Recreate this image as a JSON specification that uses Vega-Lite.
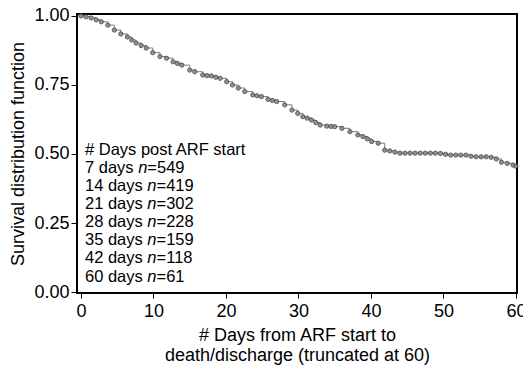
{
  "$schema": "https://vega.github.io/schema/vega-lite/v6.json",
  "width": 440,
  "height": 279,
  "autosize": {"type": "none"},
  "padding": {"left": 77, "top": 14, "right": 6, "bottom": 74},
  "config": {
    "font": "Liberation Sans",
    "view": {"stroke": "black", "strokeWidth": 2},
    "axis": {
      "domain": false,
      "grid": false,
      "tickColor": "black",
      "labelColor": "black",
      "titleColor": "black",
      "labelFontSize": 18,
      "titleFontSize": 18,
      "titleFontWeight": "normal",
      "labelFont": "Liberation Sans",
      "titleFont": "Liberation Sans"
    }
  },
  "datasets": {
    "km": [
      {"day": 0, "surv": 1.0},
      {"day": 0.7, "surv": 0.997},
      {"day": 1.4, "surv": 0.993},
      {"day": 2.1, "surv": 0.986},
      {"day": 2.8, "surv": 0.979},
      {"day": 3.7, "surv": 0.967},
      {"day": 4.6, "surv": 0.949},
      {"day": 5.5, "surv": 0.935},
      {"day": 6.4, "surv": 0.924},
      {"day": 7.0, "surv": 0.913},
      {"day": 7.6, "surv": 0.902},
      {"day": 8.3, "surv": 0.893},
      {"day": 9.0, "surv": 0.884},
      {"day": 9.9, "surv": 0.867},
      {"day": 10.9, "surv": 0.853},
      {"day": 11.8, "surv": 0.847},
      {"day": 12.7, "surv": 0.834},
      {"day": 13.3, "surv": 0.828},
      {"day": 13.9, "surv": 0.822},
      {"day": 15.0, "surv": 0.804},
      {"day": 15.7, "surv": 0.798},
      {"day": 16.8, "surv": 0.786},
      {"day": 17.4, "surv": 0.784},
      {"day": 18.0, "surv": 0.783},
      {"day": 18.6, "surv": 0.778},
      {"day": 19.2, "surv": 0.774},
      {"day": 20.1, "surv": 0.762},
      {"day": 20.9, "surv": 0.75},
      {"day": 21.7, "surv": 0.739},
      {"day": 22.6, "surv": 0.726},
      {"day": 23.7, "surv": 0.714},
      {"day": 24.3, "surv": 0.711},
      {"day": 24.9, "surv": 0.708},
      {"day": 25.8, "surv": 0.698},
      {"day": 26.4, "surv": 0.694},
      {"day": 27.0, "surv": 0.69},
      {"day": 28.1, "surv": 0.678},
      {"day": 29.1, "surv": 0.659},
      {"day": 29.9, "surv": 0.647},
      {"day": 30.6, "surv": 0.635},
      {"day": 31.2, "surv": 0.63},
      {"day": 31.8, "surv": 0.623},
      {"day": 32.4, "surv": 0.614},
      {"day": 33.0, "surv": 0.605},
      {"day": 33.9, "surv": 0.601},
      {"day": 34.5, "surv": 0.6},
      {"day": 35.0, "surv": 0.599},
      {"day": 36.0, "surv": 0.593},
      {"day": 37.1, "surv": 0.581},
      {"day": 38.2, "surv": 0.569},
      {"day": 38.9, "surv": 0.563},
      {"day": 39.5, "surv": 0.555},
      {"day": 40.1, "surv": 0.545},
      {"day": 41.0, "surv": 0.539},
      {"day": 41.9, "surv": 0.514},
      {"day": 42.6, "surv": 0.511},
      {"day": 43.3, "surv": 0.507},
      {"day": 44.0, "surv": 0.503},
      {"day": 44.7, "surv": 0.503},
      {"day": 45.4, "surv": 0.503},
      {"day": 46.1, "surv": 0.503},
      {"day": 46.8, "surv": 0.503},
      {"day": 47.5, "surv": 0.503},
      {"day": 48.2, "surv": 0.503},
      {"day": 48.9, "surv": 0.503},
      {"day": 49.6, "surv": 0.502},
      {"day": 50.3, "surv": 0.499},
      {"day": 51.0, "surv": 0.496},
      {"day": 51.7, "surv": 0.496},
      {"day": 52.4, "surv": 0.496},
      {"day": 53.1, "surv": 0.496},
      {"day": 53.8, "surv": 0.492},
      {"day": 54.5, "surv": 0.49},
      {"day": 55.2, "surv": 0.49},
      {"day": 55.9, "surv": 0.49},
      {"day": 56.6, "surv": 0.488},
      {"day": 57.3, "surv": 0.482},
      {"day": 58.0, "surv": 0.47},
      {"day": 58.8, "surv": 0.466},
      {"day": 59.6, "surv": 0.46},
      {"day": 60.0, "surv": 0.456}
    ],
    "risk": [
      {"label": "# Days post ARF start"},
      {"label": "7 days", "n": 549},
      {"label": "14 days", "n": 419},
      {"label": "21 days", "n": 302},
      {"label": "28 days", "n": 228},
      {"label": "35 days", "n": 159},
      {"label": "42 days", "n": 118},
      {"label": "60 days", "n": 61}
    ]
  },
  "layer": [
    {
      "data": {"name": "km"},
      "mark": {"type": "line", "interpolate": "step-after", "color": "#7a7a7a", "strokeWidth": 1},
      "encoding": {
        "x": {
          "field": "day", "type": "quantitative",
          "scale": {"domain": [-0.55, 60.15], "nice": false, "zero": false},
          "axis": {
            "values": [0, 10, 20, 30, 40, 50, 60],
            "title": ["# Days from ARF start to", "death/discharge (truncated at 60)"],
            "titleLineHeight": 20,
            "titlePadding": 6,
            "tickSize": 5,
            "labelPadding": 4,
            "labelFlush": false
          }
        },
        "y": {
          "field": "surv", "type": "quantitative",
          "scale": {"domain": [-0.0036, 1.0072], "nice": false, "zero": false},
          "axis": {
            "values": [0, 0.25, 0.5, 0.75, 1],
            "format": ".2f",
            "title": "Survival distribution function",
            "tickSize": 6,
            "labelPadding": 2,
            "titlePadding": 6
          }
        }
      }
    },
    {
      "data": {"name": "km"},
      "mark": {"type": "circle", "fill": "#8c8c8c", "stroke": "#4d4d4d", "strokeWidth": 1, "size": 18, "opacity": 0.9},
      "encoding": {
        "x": {"field": "day", "type": "quantitative"},
        "y": {
          "field": "surv", "type": "quantitative",
          "scale": {"domain": [-0.0036, 1.0072], "nice": false, "zero": false},
          "axis": null
        }
      }
    },
    {
      "data": {"name": "risk"},
      "mark": {"type": "text", "align": "left", "baseline": "alphabetic", "fontSize": 16.5, "color": "black"},
      "encoding": {
        "x": {"datum": 0.55, "type": "quantitative"},
        "y": {
          "field": "label", "type": "ordinal", "sort": null,
          "scale": {"type": "point", "padding": 0, "range": [141, 267.5],
            "domain": ["# Days post ARF start", "7 days", "14 days", "21 days", "28 days", "35 days", "42 days", "60 days"]},
          "axis": null
        },
        "text": {"field": "label"}
      }
    },
    {
      "data": {"name": "risk"},
      "transform": [{"filter": "isValid(datum.n) && datum.label != '7 days'"}],
      "mark": {"type": "text", "align": "left", "baseline": "alphabetic", "fontSize": 16.5, "fontStyle": "italic", "color": "black", "text": "n", "dx": 62.4},
      "encoding": {
        "x": {"datum": 0.55, "type": "quantitative"},
        "y": {
          "field": "label", "type": "ordinal", "sort": null,
          "scale": {"type": "point", "padding": 0, "range": [141, 267.5],
            "domain": ["# Days post ARF start", "7 days", "14 days", "21 days", "28 days", "35 days", "42 days", "60 days"]},
          "axis": null
        }
      }
    },
    {
      "data": {"name": "risk"},
      "transform": [{"filter": "isValid(datum.n) && datum.label != '7 days'"}],
      "mark": {"type": "text", "align": "left", "baseline": "alphabetic", "fontSize": 16.5, "color": "black", "text": "=", "dx": 71.6},
      "encoding": {
        "x": {"datum": 0.55, "type": "quantitative"},
        "y": {
          "field": "label", "type": "ordinal", "sort": null,
          "scale": {"type": "point", "padding": 0, "range": [141, 267.5],
            "domain": ["# Days post ARF start", "7 days", "14 days", "21 days", "28 days", "35 days", "42 days", "60 days"]},
          "axis": null
        }
      }
    },
    {
      "data": {"name": "risk"},
      "transform": [{"filter": "isValid(datum.n) && datum.label != '7 days'"}],
      "mark": {"type": "text", "align": "left", "baseline": "alphabetic", "fontSize": 16.5, "color": "black", "dx": 81.2},
      "encoding": {
        "x": {"datum": 0.55, "type": "quantitative"},
        "y": {
          "field": "label", "type": "ordinal", "sort": null,
          "scale": {"type": "point", "padding": 0, "range": [141, 267.5],
            "domain": ["# Days post ARF start", "7 days", "14 days", "21 days", "28 days", "35 days", "42 days", "60 days"]},
          "axis": null
        },
        "text": {"field": "n", "type": "quantitative"}
      }
    },
    {
      "data": {"name": "risk"},
      "transform": [{"filter": "datum.label == '7 days'"}],
      "mark": {"type": "text", "align": "left", "baseline": "alphabetic", "fontSize": 16.5, "fontStyle": "italic", "color": "black", "text": "n", "dx": 53.2},
      "encoding": {
        "x": {"datum": 0.55, "type": "quantitative"},
        "y": {
          "field": "label", "type": "ordinal", "sort": null,
          "scale": {"type": "point", "padding": 0, "range": [141, 267.5],
            "domain": ["# Days post ARF start", "7 days", "14 days", "21 days", "28 days", "35 days", "42 days", "60 days"]},
          "axis": null
        }
      }
    },
    {
      "data": {"name": "risk"},
      "transform": [{"filter": "datum.label == '7 days'"}],
      "mark": {"type": "text", "align": "left", "baseline": "alphabetic", "fontSize": 16.5, "color": "black", "text": "=", "dx": 62.4},
      "encoding": {
        "x": {"datum": 0.55, "type": "quantitative"},
        "y": {
          "field": "label", "type": "ordinal", "sort": null,
          "scale": {"type": "point", "padding": 0, "range": [141, 267.5],
            "domain": ["# Days post ARF start", "7 days", "14 days", "21 days", "28 days", "35 days", "42 days", "60 days"]},
          "axis": null
        }
      }
    },
    {
      "data": {"name": "risk"},
      "transform": [{"filter": "datum.label == '7 days'"}],
      "mark": {"type": "text", "align": "left", "baseline": "alphabetic", "fontSize": 16.5, "color": "black", "dx": 72.0},
      "encoding": {
        "x": {"datum": 0.55, "type": "quantitative"},
        "y": {
          "field": "label", "type": "ordinal", "sort": null,
          "scale": {"type": "point", "padding": 0, "range": [141, 267.5],
            "domain": ["# Days post ARF start", "7 days", "14 days", "21 days", "28 days", "35 days", "42 days", "60 days"]},
          "axis": null
        },
        "text": {"field": "n", "type": "quantitative"}
      }
    }
  ],
  "resolve": {"scale": {"y": "independent"}}
}
